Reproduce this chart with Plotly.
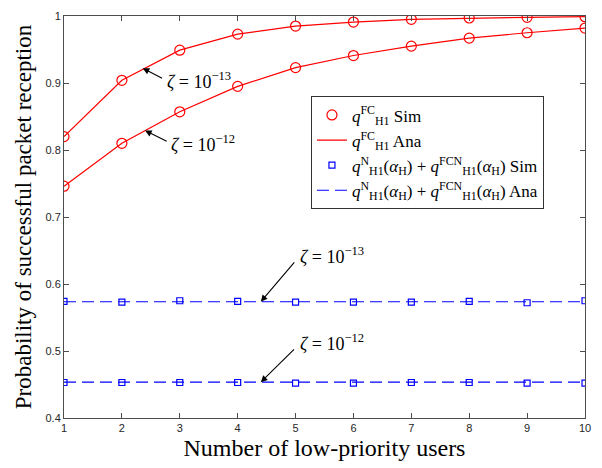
import plotly.graph_objects as go

users = [1, 2, 3, 4, 5, 6, 7, 8, 9, 10]

# q_H1^FC, zeta = 1e-13
fc13_sim = [0.820, 0.904, 0.949, 0.973, 0.985, 0.991, 0.995, 0.997, 0.998, 0.999]
fc13_ana = [0.820, 0.904, 0.949, 0.973, 0.985, 0.991, 0.995, 0.997, 0.998, 0.999]
# q_H1^FC, zeta = 1e-12
fc12_sim = [0.746, 0.810, 0.857, 0.895, 0.923, 0.941, 0.955, 0.967, 0.975, 0.982]
fc12_ana = [0.746, 0.810, 0.857, 0.895, 0.923, 0.941, 0.955, 0.967, 0.975, 0.982]
# q_H1^N + q_H1^FCN
n13_sim = [0.574, 0.573, 0.575, 0.574, 0.573, 0.573, 0.573, 0.574, 0.572, 0.575]
n13_ana = [0.5735] * 10
n12_sim = [0.453, 0.453, 0.453, 0.453, 0.452, 0.452, 0.453, 0.453, 0.452, 0.452]
n12_ana = [0.4535] * 10

yticks = [0.4, 0.5, 0.6, 0.7, 0.8, 0.9, 1]
ytick_text = ["0.4", "0.5", "0.6", "0.7", "0.8", "0.9", "1"]

RED = "rgb(255,0,0)"
BLUE = "rgb(0,0,255)"
SERIF = "Liberation Serif"

lab_fc = "<i>q</i><sup>FC</sup><sub>H1</sub>"
lab_n = ("<i>q</i><sup>N</sup><sub>H1</sub>(<i>α</i><sub>H</sub>) + "
         "<i>q</i><sup>FCN</sup><sub>H1</sub>(<i>α</i><sub>H</sub>)")

fig = go.Figure()
fig.add_trace(go.Scatter(x=users, y=fc13_sim, mode="markers", name=lab_fc + " Sim",
                         marker=dict(symbol="circle-open", size=10, color=RED, line=dict(width=1.2))))
fig.add_trace(go.Scatter(x=users, y=fc13_ana, mode="lines", name=lab_fc + " Ana",
                         line=dict(color=RED, width=1.2)))
fig.add_trace(go.Scatter(x=users, y=n13_sim, mode="markers", name=lab_n + " Sim",
                         marker=dict(symbol="square-open", size=6, color=BLUE, line=dict(width=1.2))))
fig.add_trace(go.Scatter(x=users, y=n13_ana, mode="lines", name=lab_n + " Ana",
                         line=dict(color=BLUE, width=1.2, dash="12px,6px")))
fig.add_trace(go.Scatter(x=users, y=fc12_sim, mode="markers", showlegend=False,
                         marker=dict(symbol="circle-open", size=10, color=RED, line=dict(width=1.2))))
fig.add_trace(go.Scatter(x=users, y=fc12_ana, mode="lines", showlegend=False,
                         line=dict(color=RED, width=1.2)))
fig.add_trace(go.Scatter(x=users, y=n12_sim, mode="markers", showlegend=False,
                         marker=dict(symbol="square-open", size=6, color=BLUE, line=dict(width=1.2))))
fig.add_trace(go.Scatter(x=users, y=n12_ana, mode="lines", showlegend=False,
                         line=dict(color=BLUE, width=1.2, dash="12px,6px")))

def arrow(x, y, ax, ay):
    fig.add_annotation(x=x, y=y, ax=ax, ay=ay, xref="x", yref="y", axref="x", ayref="y",
                       text="", showarrow=True, arrowhead=2, arrowsize=1.2, arrowwidth=1.1,
                       arrowcolor="black")

def label(x, y, t):
    fig.add_annotation(x=x, y=y, xref="x", yref="y", text=t, showarrow=False,
                       xanchor="left", yanchor="middle",
                       font=dict(family=SERIF, size=18, color="black"))

zl = "<i>ζ</i> = 10<sup>−13</sup>"
zl2 = "<i>ζ</i> = 10<sup>−12</sup>"
arrow(2.36, 0.922, 2.72, 0.906)
label(2.75, 0.903, zl)
arrow(2.40, 0.829, 2.80, 0.812)
label(2.82, 0.809, zl2)
arrow(4.40, 0.5735, 5.0, 0.6345)
label(5.05, 0.642, zl)
arrow(4.40, 0.4535, 5.0, 0.5045)
label(5.05, 0.512, zl2)

axis_common = dict(showline=True, linecolor="#4d4d4d", linewidth=1, mirror="ticks",
                   ticks="inside", ticklen=5, tickcolor="#4d4d4d", showgrid=False,
                   zeroline=False, tickfont=dict(family="Liberation Sans", size=11, color="#262626"))

fig.update_layout(
    width=602, height=468,
    margin=dict(l=64, r=17, t=10, b=50),
    paper_bgcolor="white", plot_bgcolor="white",
    xaxis=dict(range=[1, 10], tickvals=users,
               title=dict(text="Number of low-priority users", standoff=5,
                          font=dict(family=SERIF, size=24, color="black")),
               **axis_common),
    yaxis=dict(range=[0.4, 1], tickvals=yticks, ticktext=ytick_text,
               title=dict(text="Probability of successful packet reception", standoff=7,
                          font=dict(family=SERIF, size=23, color="black")),
               **axis_common),
    legend=dict(x=0.474, y=0.80, xanchor="left", yanchor="top",
                bgcolor="white", bordercolor="#333333", borderwidth=1,
                font=dict(family=SERIF, size=17, color="black"),
                tracegroupgap=0, itemwidth=30),
    showlegend=True,
)

fig.write_html("out.html")
